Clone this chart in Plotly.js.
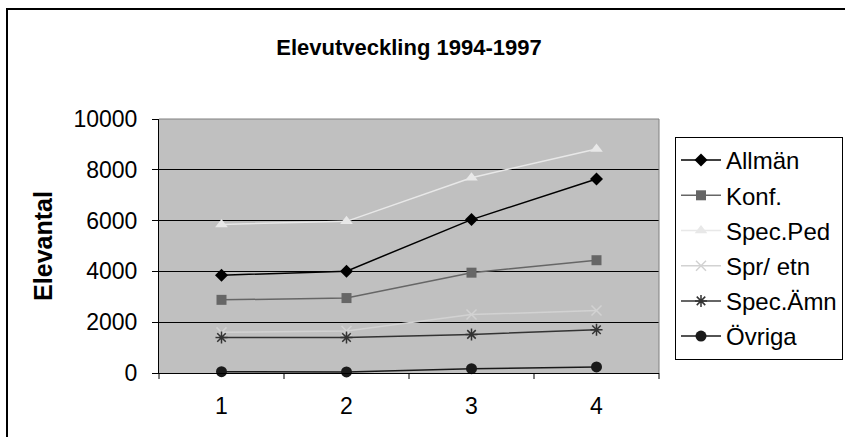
<!DOCTYPE html>
<html>
<head>
<meta charset="utf-8">
<script src="https://cdn.plot.ly/plotly-3.0.1.min.js"></script>
<style>
html,body{margin:0;padding:0;background:#fff;overflow:hidden;}
#frame{position:absolute;left:6px;top:8px;width:900px;height:500px;border-left:2px solid #000;border-top:2px solid #000;}
#chart{position:absolute;left:0;top:0;width:845px;height:437px;}
</style>
</head>
<body>
<div id="frame"></div>
<div id="chart"></div>
<script>
const categories = ["1", "2", "3", "4"];
const allman   = [3850, 4010, 6040, 7640];
const konf     = [2880, 2950, 3950, 4440];
const specPed  = [5850, 5970, 7690, 8820];
const sprEtn   = [1600, 1650, 2300, 2460];
const specAmn  = [1400, 1400, 1520, 1700];
const ovriga   = [50, 40, 170, 240];
const seriesNames = ["Allmän", "Konf.", "Spec.Ped", "Spr/ etn", "Spec.Ämn", "Övriga"];
const yTicks = [0, 2000, 4000, 6000, 8000, 10000];

const seriesData = [allman, konf, specPed, sprEtn, specAmn, ovriga];
const styles = [
  {color: "#000000", symbol: "diamond", size: 10},
  {color: "#666666", symbol: "square", size: 10},
  {color: "#e8e8e8", symbol: "triangle-up", size: 11},
  {color: "#d2d2d2", symbol: "x-thin-open", size: 10},
  {color: "#333333", symbol: "asterisk-open", size: 10},
  {color: "#1a1a1a", symbol: "circle", size: 11}
];

const traces = seriesData.map((vals, i) => ({
  type: "scatter",
  mode: "lines+markers",
  name: seriesNames[i],
  legendgroup: "g" + i,
  x: categories,
  y: vals,
  line: {color: styles[i].color, width: 1.5},
  marker: {color: styles[i].color, symbol: styles[i].symbol, size: styles[i].size,
           line: {color: styles[i].color, width: (styles[i].symbol.indexOf("open") >= 0 ? 1.5 : 0)}},
  cliponaxis: false
}));

const layout = {
  width: 845, height: 437,
  margin: {l: 159, r: 186, t: 119, b: 64, autoexpand: false},
  paper_bgcolor: "rgba(0,0,0,0)",
  plot_bgcolor: "#c0c0c0",
  font: {family: "Liberation Sans, Arial, sans-serif", color: "#000", size: 22},
  title: {
    text: "<b>Elevutveckling 1994-1997</b>",
    font: {family: "Liberation Sans, Arial, sans-serif", size: 22, color: "#000"},
    x: 0.5, xref: "paper", xanchor: "center",
    y: 1 - 47/437, yref: "container", yanchor: "middle"
  },
  xaxis: {
    type: "category",
    range: [-0.5, 3.5],
    showgrid: false,
    zeroline: false,
    showline: true, linecolor: "#000", linewidth: 1,
    ticks: "", tickfont: {size: 23},
    ticklabelstandoff: 12,
    fixedrange: true
  },
  yaxis: {
    range: [0, 10000],
    tickvals: yTicks,
    ticktext: yTicks.map(String),
    showgrid: true, gridcolor: "#000", gridwidth: 1,
    zeroline: false,
    showline: true, linecolor: "#000", linewidth: 1,
    ticks: "outside", ticklen: 6, tickcolor: "#000",
    tickfont: {size: 23},
    ticklabelstandoff: 10,
    title: {text: "<b>Elevantal</b>", font: {size: 25}, standoff: 13},
    fixedrange: true
  },
  shapes: [
    {type: "line", xref: "paper", yref: "paper", x0: 0.25, x1: 0.25, y0: 0, y1: -6/254, line: {color: "#000", width: 1}},
    {type: "line", xref: "paper", yref: "paper", x0: 0.5, x1: 0.5, y0: 0, y1: -6/254, line: {color: "#000", width: 1}},
    {type: "line", xref: "paper", yref: "paper", x0: 0.75, x1: 0.75, y0: 0, y1: -6/254, line: {color: "#000", width: 1}},
    {type: "line", xref: "paper", yref: "paper", x0: 0, x1: 0, y0: 0, y1: -6/254, line: {color: "#000", width: 1}},
    {type: "line", xref: "paper", yref: "paper", x0: 1, x1: 1, y0: 0, y1: -6/254, line: {color: "#000", width: 1}},
    {type: "line", xref: "paper", yref: "paper", x0: 0, x1: 1, y0: 1, y1: 1, line: {color: "#808080", width: 1}},
    {type: "line", xref: "paper", yref: "paper", x0: 1, x1: 1, y0: 0, y1: 1, line: {color: "#808080", width: 1}}
  ],
  legend: {
    x: (675 - 159) / 500, xanchor: "left",
    y: (373 - 137) / 254, yanchor: "top",
    bordercolor: "#000", borderwidth: 1,
    bgcolor: "#fff",
    font: {size: 24},
    traceorder: "grouped",
    tracegroupgap: 1,
    itemwidth: 40
  },
  showlegend: true
};

Plotly.newPlot("chart", traces, layout, {displayModeBar: false, staticPlot: true});
</script>
</body>
</html>
